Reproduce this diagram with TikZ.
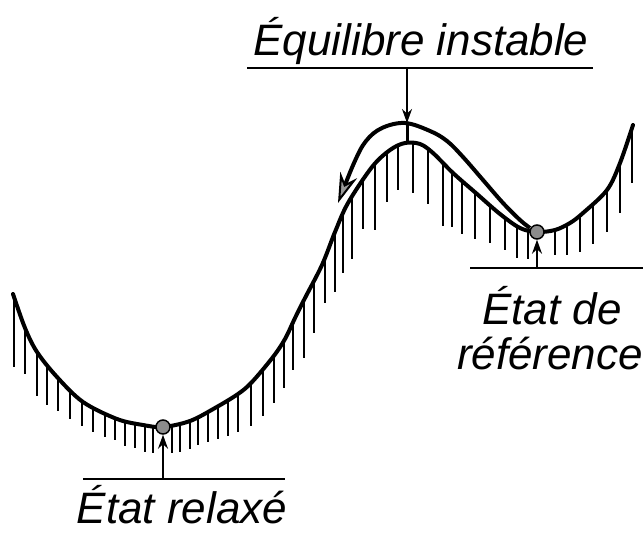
\documentclass[tikz,border=0pt]{standalone}
\usepackage{fontspec}
\setmainfont{Liberation Sans}
\usepackage{tikz}
\usetikzlibrary{arrows.meta,intersections}

\begin{document}
\begin{tikzpicture}[x=1pt, y=-1pt,
  font=\fontsize{44}{46}\selectfont\itshape,
  slope/.style={line width=4pt, line join=round, line cap=round},
  hatch/.style={line width=2pt},
  rule/.style={line width=2.5pt},
  pointer/.style={-{Stealth[length=14pt,width=10pt]}, line width=1.8pt},
  ball/.style={circle, draw, fill=black!45, line width=1.5pt, minimum size=14pt, inner sep=0pt}
]
\useasboundingbox (0,0) rectangle (644,534);

% energy landscape
\draw[slope, name path=land] plot[smooth, tension=0.55] coordinates {
  (13,294) (25,328) (37,352) (57,377) (83,402) (117,419) (143,425) (163,427)
  (190,421) (215,408) (238,394) (252,382) (273,357) (285,339) (295,318)
  (305,298) (322,265) (335,232) (348,203) (372,167) (390,150) (405,143)
  (420,144) (433,153) (453,173) (477,194) (500,214) (520,228) (537,232)
  (555,230) (570,223) (583,213) (607,190) (620,163) (633,125)};

% hatching under the curve
\foreach \hx/\hl in {14/70, 25/46, 37/44, 47/40, 58/33, 70/28, 82/25, 93/24,
  105/23, 115/22, 125/24, 135/24, 145/27, 153/26, 172/27, 180/28, 190/28,
  198/28, 208/30, 218/33, 228/36, 238/38, 251/43, 263/47, 274/47, 284/47,
  293/48, 304/58, 314/52, 325/45, 335/60, 343/60, 352/63, 363/50, 375/67,
  387/50, 398/45, 413/50, 428/55, 443/63, 452/55, 462/53, 475/47, 490/37,
  505/32, 517/32, 528/28, 555/25, 567/30, 580/36, 593/40, 607/42, 620/50,
  632/55} {
  \path[name path=vline] (\hx,0) -- (\hx,534);
  \path[name intersections={of=land and vline, by=hp}];
  \draw[hatch] (hp) -- ++(0,\hl);
}

% balls
\node[ball] (relax) at (163,427) {};
\node[ball] (ref) at (537,232) {};

% labels
\node[anchor=base] (eq) at (421,56) {Équilibre instable};
\draw[rule] (247,68) coordinate (eqL) -- (593,68) coordinate (eqR);
\coordinate (eqfoot) at (407,68);
\coordinate (crest) at (407,123);
\coordinate (top) at (407,143);
\draw[pointer] (eqfoot) -- (crest);
\draw[line width=3pt] (crest) -- (top);

\node[anchor=base] (relaxlbl) at (182,523) {État relaxé};
\draw[rule] (83,479) coordinate (relL) -- (285,479) coordinate (relR);
\coordinate (relfoot) at (163,479);
\draw[pointer] (relfoot) -- (relax.south);

\node[anchor=base] (reflblA) at (552,324) {État de};
\node[anchor=base] (reflblB) at (550,369) {référence};
\draw[rule] (470,268) coordinate (refL) -- (643,268) coordinate (refR);
\coordinate (reffoot) at (537,268);
\draw[pointer] (reffoot) -- (ref.south);

% path over the barrier
\draw[slope, line cap=butt, -{Stealth[length=30pt,width=18pt,fill=black!40,line width=2pt]}]
  plot[smooth, tension=0.6] coordinates {
  (530,228) (520,220) (503,203) (483,180) (463,157) (447,141) (430,131)
  (405,123) (382,128) (366,141) (354,163) (338,203)};
\end{tikzpicture}
\end{document}
